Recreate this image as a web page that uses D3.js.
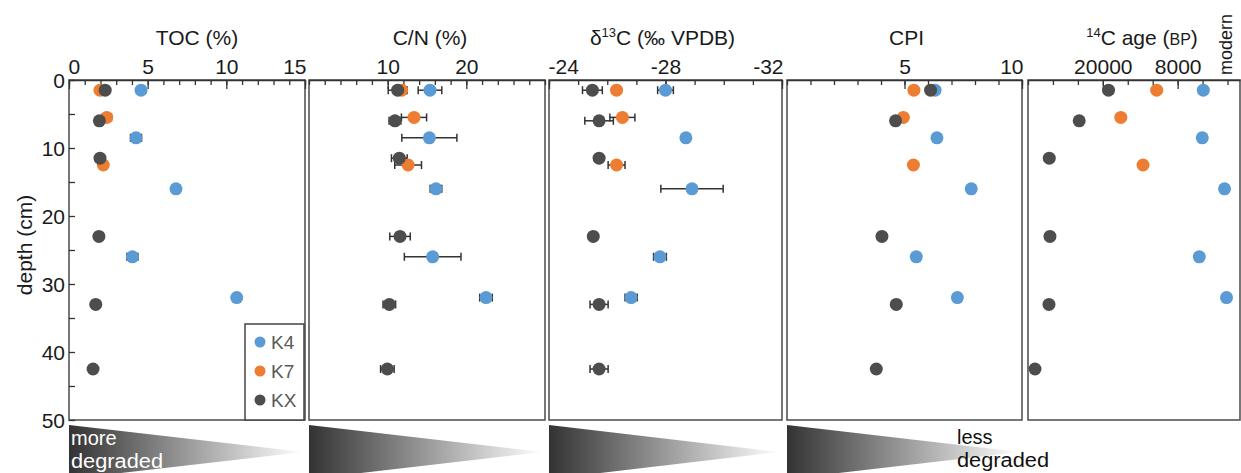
<!DOCTYPE html>
<html>
<head>
<meta charset="utf-8">
<script src="https://cdn.jsdelivr.net/npm/d3@7"></script>
<style>
  body { margin: 0; background: #fff; }
  svg { display: block; font-family: "Liberation Sans", Arial, sans-serif; }
</style>
</head>
<body>
<div id="chart"></div>
<script>
// sample cores
const cores = ["K4", "K7", "KX"]
const coreColors = ["#5B9BD5", "#ED7D31", "#4D4D4D"]

// depth of each sample (cm)
const depthK4 = [1.5, 8.5, 16, 26, 32]
const depthK7 = [1.5, 5.5, 12.5]
const depthKX = [1.5, 6, 11.5, 23, 33, 42.5]

// TOC (%)
const tocK4 = [4.58, 4.26, 6.8, 4.03, 10.66]
const tocErrK4 = [0, 0.35, 0, 0.35, 0]
const tocK7 = [1.97, 2.4, 2.18]
const tocErrK7 = [0, 0.3, 0]
const tocKX = [2.3, 1.93, 1.97, 1.9, 1.7, 1.53]

// C/N
const cnK4 = [15.38, 15.3, 16.14, 15.72, 22.5]
const cnErrK4 = [1.5, 3.5, 0.74, 3.6, 0.8]
const cnK7 = [11.78, 13.35, 12.6]
const cnErrK7 = [0.6, 1.6, 1.7]
const cnKX = [11.27, 10.93, 11.48, 11.57, 10.21, 9.96]
const cnErrKX = [1.2, 0.75, 1.0, 1.3, 0.8, 0.86]

// d13C (per mil VPDB)
const d13cK4 = [-28.0, -28.7, -28.91, -27.81, -26.82]
const d13cErrK4 = [0.27, 0, 1.07, 0.22, 0.21]
const d13cK7 = [-26.32, -26.52, -26.32]
const d13cErrK7 = [0, 0.43, 0.29]
const d13cKX = [-25.49, -25.72, -25.72, -25.52, -25.72, -25.72]
const d13cErrKX = [0.34, 0.49, 0, 0, 0.31, 0.31]

// CPI
const cpiK4 = [6.3, 6.38, 7.84, 5.5, 7.25]
const cpiK7 = [5.4, 4.95, 5.38]
const cpiKX = [6.11, 4.62, null, 4.04, 4.65, 3.8]

// 14C age (BP)
const ageK4 = [3890, 4050, 480, 4530, 160]
const ageK7 = [11360, 17120, 13550]
const ageKX = [19090, 23790, 28590, 28480, 28640, 30880]

// axis ticks
const depthTicks = [0, 10, 20, 30, 40, 50]
const tocTicks = [0, 5, 10, 15]
const cnTicks = [10, 20]
const d13cTicks = [-24, -28, -32]
const cpiTicks = [5, 10]
const ageTicks = [20000, 8000]

const width = 1241
const height = 473
const plotTop = 80
const plotBottom = 420

const svg = d3.select("#chart").append("svg")
  .attr("width", width)
  .attr("height", height)

const defs = svg.append("defs")
const grad = defs.append("linearGradient").attr("id", "fade")
grad.append("stop").attr("offset", "0%").attr("stop-color", "#333")
grad.append("stop").attr("offset", "100%").attr("stop-color", "#fff")

const y = d3.scaleLinear().domain([0, 50]).range([plotTop, plotBottom])

function pack(depths, vals, errs) {
  return depths.map((d, i) => ({ depth: d, value: vals[i], err: errs ? errs[i] : 0 }))
    .filter(d => d.value != null)
}

const panels = [
  {
    domain: [0, 15], range: [69, 305], majors: tocTicks, minorStep: 1,
    first: "start", last: "end", titleDx: 10,
    data: [pack(depthK4, tocK4, tocErrK4), pack(depthK7, tocK7, tocErrK7), pack(depthKX, tocKX)]
  },
  {
    domain: [0, 30], range: [309, 545], majors: cnTicks, minorStep: 2, titleDx: 3,
    data: [pack(depthK4, cnK4, cnErrK4), pack(depthK7, cnK7, cnErrK7), pack(depthKX, cnKX, cnErrKX)]
  },
  {
    domain: [-24, -32], range: [549, 782], majors: d13cTicks, minorStep: 1,
    first: "start", last: "end", titleDx: -3,
    data: [pack(depthK4, d13cK4, d13cErrK4), pack(depthK7, d13cK7, d13cErrK7), pack(depthKX, d13cKX, d13cErrKX)]
  },
  {
    domain: [0, 10], range: [787, 1022], majors: cpiTicks, minorStep: 1,
    last: "end", titleDx: 2,
    data: [pack(depthK4, cpiK4), pack(depthK7, cpiK7), pack(depthKX, cpiKX)]
  },
  {
    domain: [32000, -2000], range: [1028, 1240], majors: ageTicks, minorStep: 4000, titleDx: 8,
    data: [pack(depthK4, ageK4), pack(depthK7, ageK7), pack(depthKX, ageKX)]
  }
]

panels.forEach((p, pi) => {
  const x = d3.scaleLinear().domain(p.domain).range(p.range)
  p.x = x
  const g = svg.append("g")

  // frame
  g.append("rect")
    .attr("x", p.range[0])
    .attr("y", plotTop)
    .attr("width", p.range[1] - p.range[0])
    .attr("height", plotBottom - plotTop)
    .attr("fill", "none")
    .attr("stroke", "#555")
    .attr("stroke-width", 1.6)

  // minor ticks
  const lo = Math.min(...p.domain), hi = Math.max(...p.domain)
  const minors = d3.range(Math.ceil(lo / p.minorStep) * p.minorStep, hi + 1e-9, p.minorStep)
  g.append("g")
    .attr("transform", "translate(0," + plotTop + ")")
    .call(d3.axisTop(x).tickValues(minors).tickSizeInner(-5).tickSizeOuter(0).tickFormat(""))
    .call(a => a.select(".domain").attr("stroke", "#333").attr("stroke-width", 1.6))
    .call(a => a.selectAll("line").attr("stroke", "#333").attr("stroke-width", 1.3))

  // major ticks + labels
  const ax = g.append("g")
    .attr("transform", "translate(0," + plotTop + ")")
    .call(d3.axisTop(x).tickValues(p.majors).tickSizeInner(-9).tickSizeOuter(0)
      .tickPadding(6).tickFormat(d => String(d)))
  ax.select(".domain").remove()
  ax.selectAll("line").attr("stroke", "#333").attr("stroke-width", 1.3)
  ax.selectAll("text")
    .style("font-size", "21px")
    .attr("fill", "#1a1a1a")
    .attr("text-anchor", (d, i, n) => {
      if (i === 0 && p.first) return p.first
      if (i === n.length - 1 && p.last) return p.last
      return "middle"
    })
    .attr("dx", (d, i, n) => {
      if (i === 0 && p.first) return -1
      if (i === n.length - 1 && p.last) return 1
      return 0
    })

  // error bars
  p.data.forEach((series, si) => {
    const eb = g.append("g").attr("stroke", "#333").attr("stroke-width", 1.5)
    series.filter(d => d.err > 0).forEach(d => {
      const x0 = x(d.value - d.err), x1 = x(d.value + d.err), yy = y(d.depth)
      eb.append("line").attr("x1", x0).attr("x2", x1).attr("y1", yy).attr("y2", yy)
      eb.append("line").attr("x1", x0).attr("x2", x0).attr("y1", yy - 4).attr("y2", yy + 4)
      eb.append("line").attr("x1", x1).attr("x2", x1).attr("y1", yy - 4).attr("y2", yy + 4)
    })
  })

  // points
  p.data.forEach((series, si) => {
    g.selectAll(".pt" + si)
      .data(series)
      .enter()
      .append("circle")
      .attr("cx", d => x(d.value))
      .attr("cy", d => y(d.depth))
      .attr("r", 6.5)
      .attr("fill", coreColors[si])
  })
})

// depth axis on first panel
const yAxis = svg.append("g")
  .attr("transform", "translate(" + panels[0].range[0] + ",0)")
  .call(d3.axisLeft(y).tickValues(d3.range(0, 51, 5)).tickSizeInner(-6).tickSizeOuter(0).tickFormat(""))
yAxis.select(".domain").remove()
yAxis.selectAll("line").attr("stroke", "#333").attr("stroke-width", 1.3)

svg.append("g")
  .selectAll("text")
  .data(depthTicks)
  .enter()
  .append("text")
  .attr("x", 65)
  .attr("y", d => y(d))
  .attr("dy", "0.36em")
  .attr("text-anchor", "end")
  .style("font-size", "21px")
  .attr("fill", "#1a1a1a")
  .text(d => d)

svg.append("text")
  .attr("transform", "rotate(-90)")
  .attr("x", -245)
  .attr("y", 32)
  .attr("text-anchor", "middle")
  .style("font-size", "21px")
  .attr("fill", "#1a1a1a")
  .text("depth (cm)")

// panel titles
const titleY = 45
function title(pi) {
  const p = panels[pi]
  return svg.append("text")
    .attr("x", (p.range[0] + p.range[1]) / 2 + p.titleDx)
    .attr("y", titleY)
    .attr("text-anchor", "middle")
    .style("font-size", "21px")
    .attr("fill", "#1a1a1a")
}
title(0).text("TOC (%)")
title(1).text("C/N (%)")
const t3 = title(2)
t3.append("tspan").text("δ")
t3.append("tspan").attr("dy", -8).style("font-size", "13px").text("13")
t3.append("tspan").attr("dy", 8).text("C (‰ VPDB)")
title(3).text("CPI")
const t5 = title(4)
t5.append("tspan").attr("dy", -8).style("font-size", "13px").text("14")
t5.append("tspan").attr("dy", 8).text("C age (")
t5.append("tspan").style("font-size", "16px").text("BP")
t5.append("tspan").text(")")

// "modern" label at age 0
svg.append("text")
  .attr("transform", "translate(" + (panels[4].x(0) + 4) + ",75) rotate(-90)")
  .attr("text-anchor", "start")
  .style("font-size", "18px")
  .attr("fill", "#1a1a1a")
  .text("modern")

// legend
const lg = svg.append("g")
lg.append("rect")
  .attr("x", 245).attr("y", 324)
  .attr("width", 59).attr("height", 96)
  .attr("fill", "#fff")
  .attr("stroke", "#444")
  .attr("stroke-width", 1.5)
cores.forEach((c, i) => {
  const cy = 342 + i * 29
  lg.append("circle").attr("cx", 260).attr("cy", cy).attr("r", 5.5).attr("fill", coreColors[i])
  lg.append("text")
    .attr("x", 271).attr("y", cy + 7)
    .style("font-size", "19px")
    .attr("fill", "#595959")
    .text(c)
})

// degradation wedges
panels.slice(0, 4).forEach(p => {
  const x0 = p.range[0], x1 = p.range[1] - 2
  svg.append("path")
    .attr("d", "M" + x0 + ",425 L" + x1 + ",452 L" + x0 + ",479 Z")
    .attr("fill", "url(#fade)")
})

function twoLine(x, yTop, lines, color) {
  lines.forEach((s, i) => {
    svg.append("text")
      .attr("x", x)
      .attr("y", yTop + i * 22.5)
      .style("font-size", "20px")
      .attr("fill", color)
      .attr("textLength", s.length > 4 ? 92 : null)
      .attr("lengthAdjust", "spacingAndGlyphs")
      .text(s)
  })
}
twoLine(71, 445, ["more", "degraded"], "#fff")
twoLine(957, 444, ["less", "degraded"], "#111")
</script>
</body>
</html>
